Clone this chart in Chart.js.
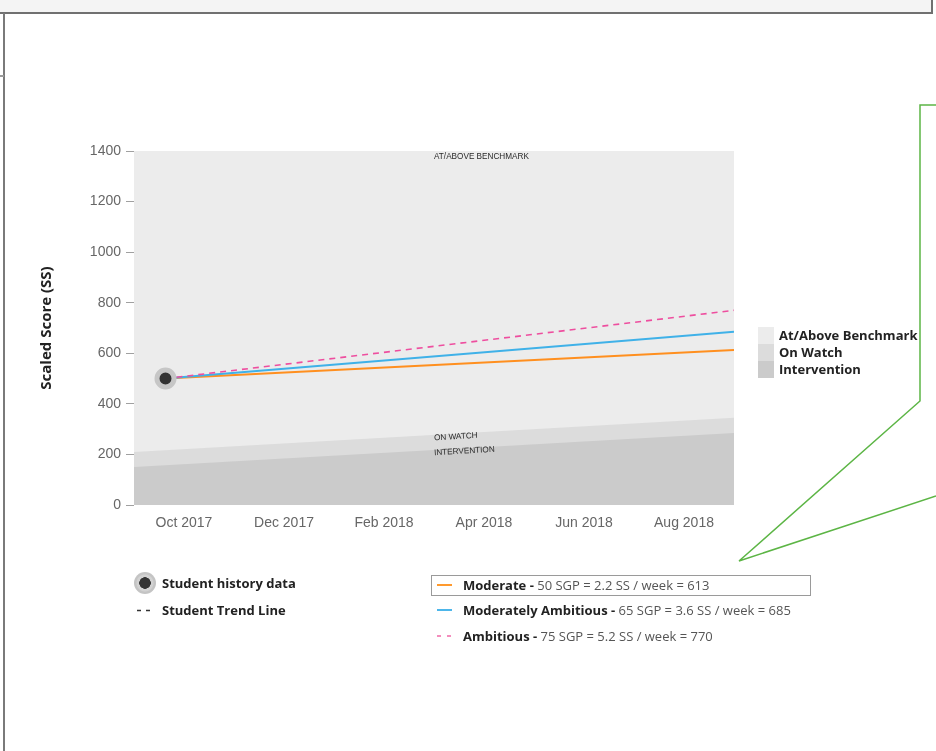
<!DOCTYPE html>
<html><head><meta charset="utf-8">
<script src="https://cdn.jsdelivr.net/npm/chart.js@4.4.0/dist/chart.umd.min.js"></script>
<style>
html,body{margin:0;padding:0;}
body{width:936px;height:751px;position:relative;overflow:hidden;background:#fff;font-family:'Open Sans',sans-serif;}
#top{position:absolute;left:0;top:0;width:931px;height:12px;background:#f4f4f4;border-bottom:2px solid #707070;border-right:2px solid #707070;}
#lb{position:absolute;left:3px;top:13px;width:2px;height:738px;background:#7a7a7a;}
#tk{position:absolute;left:0;top:75px;width:4px;height:2px;background:#9a9a9a;}
#wrap{position:absolute;left:0;top:0;width:936px;height:751px;}
svg{position:absolute;left:0;top:0;}
.t{position:absolute;white-space:nowrap;font-size:13px;line-height:16px;color:#222;}
.b{font-weight:700;}
.n{font-weight:400;color:#555;}
.sq{position:absolute;left:758px;width:16px;height:17px;}
#box{position:absolute;left:431px;top:575px;width:378px;height:19px;border:1px solid #9a9a9a;}
#dot{position:absolute;left:134px;top:572px;width:22px;height:22px;border-radius:50%;background:radial-gradient(circle,#333 0 5.5px,#d2d2d2 6px 8px,#c4c4c4 9px 11px);}
</style></head>
<body>
<div id="top"></div><div id="lb"></div><div id="tk"></div>
<div id="wrap"><canvas id="c" width="936" height="751"></canvas></div>

<div class="sq" style="top:327px;background:#ececec"></div>
<div class="sq" style="top:344px;background:#dcdcdc"></div>
<div class="sq" style="top:361px;background:#cbcbcb"></div>
<div class="t b" style="left:779px;top:327px">At/Above Benchmark</div>
<div class="t b" style="left:779px;top:344px">On Watch</div>
<div class="t b" style="left:779px;top:361px">Intervention</div>

<div id="dot"></div>
<div class="t b" style="left:162px;top:575px">Student history data</div>
<div class="t b" style="left:162px;top:602px">Student Trend Line</div>

<div id="box"></div>
<div class="t" style="left:463px;top:577px"><span class="b">Moderate - </span><span class="n">50 SGP = 2.2 SS / week = 613</span></div>
<div class="t" style="left:463px;top:602px"><span class="b">Moderately Ambitious - </span><span class="n">65 SGP = 3.6 SS / week = 685</span></div>
<div class="t" style="left:463px;top:628px"><span class="b">Ambitious - </span><span class="n">75 SGP = 5.2 SS / week = 770</span></div>

<svg width="936" height="751">
  <line x1="137" y1="610.5" x2="150" y2="610.5" stroke="#333" stroke-width="1.3" stroke-dasharray="4,5"/>
  <line x1="437" y1="585" x2="452" y2="585" stroke="#ff9a2e" stroke-width="2"/>
  <line x1="437" y1="610" x2="452" y2="610" stroke="#4db6ea" stroke-width="2"/>
  <line x1="437" y1="636" x2="452" y2="636" stroke="#f06aa8" stroke-width="1.3" stroke-dasharray="4,6"/>
  <polyline points="936,105 920,105 920,401 739,561 936,496" fill="none" stroke="#5cb545" stroke-width="1.5"/>
</svg>

<script>
// ---- data ----
const bandMonths = [0, 12];                 // months since Sep 2017
const interventionTop = [150, 285];
const onWatchTop = [210, 345];
const atAboveTop = [1400, 1400];

const studentMonths = [0.63];
const studentScores = [500];

const projMonths = [0.63, 12];
const moderateScores = [500, 613];
const modAmbitiousScores = [500, 685];
const ambitiousScores = [500, 770];

const xTickMonths = [1, 3, 5, 7, 9, 11];
const xTickLabels = ['Oct 2017', 'Dec 2017', 'Feb 2018', 'Apr 2018', 'Jun 2018', 'Aug 2018'];

const bandLabels = ['AT/ABOVE BENCHMARK', 'ON WATCH', 'INTERVENTION'];
const bandLabelScores = [1378, 265, 206];
const bandLabelMonth = 6;

const pts = (xs, ys) => xs.map((x, i) => ({x, y: ys[i]}));

const bandLabelPlugin = {
  id: 'bandLabels',
  afterDatasetsDraw(chart) {
    const {ctx, scales: {x, y}} = chart;
    const slope = Math.atan2(y.getPixelForValue(onWatchTop[1]) - y.getPixelForValue(onWatchTop[0]),
                             x.getPixelForValue(bandMonths[1]) - x.getPixelForValue(bandMonths[0]));
    ctx.save();
    ctx.fillStyle = '#2a2a2a';
    ctx.font = '8.2px "Liberation Sans", sans-serif';
    ctx.textBaseline = 'middle';
    bandLabels.forEach((t, i) => {
      ctx.save();
      ctx.translate(x.getPixelForValue(bandLabelMonth), y.getPixelForValue(bandLabelScores[i]));
      if (i > 0) ctx.rotate(slope);
      ctx.fillText(t, 0, 0);
      ctx.restore();
    });
    ctx.restore();
  }
};

new Chart(document.getElementById('c'), {
  type: 'line',
  data: {
    datasets: [
      {data: pts(studentMonths, studentScores), showLine: false, pointRadius: 8.5, pointBorderWidth: 5,
       pointBackgroundColor: '#333', pointBorderColor: '#c6c6c6', fill: false},
      {data: pts(projMonths, ambitiousScores), borderColor: '#ee4e9f', borderWidth: 1.6, borderDash: [6, 5], pointRadius: 0, fill: false},
      {data: pts(projMonths, modAmbitiousScores), borderColor: '#3fb1e8', borderWidth: 2, pointRadius: 0, fill: false},
      {data: pts(projMonths, moderateScores), borderColor: '#ff8f1f', borderWidth: 2, pointRadius: 0, fill: false},
      {data: pts(bandMonths, interventionTop), borderWidth: 0, pointRadius: 0, fill: 'origin', backgroundColor: '#cbcbcb'},
      {data: pts(bandMonths, onWatchTop), borderWidth: 0, pointRadius: 0, fill: 'origin', backgroundColor: '#dcdcdc'},
      {data: pts(bandMonths, atAboveTop), borderWidth: 0, pointRadius: 0, fill: 'origin', backgroundColor: '#ececec'}
    ]
  },
  options: {
    responsive: false,
    devicePixelRatio: 1,
    animation: false,
    events: [],
    layout: {padding: {left: 36, top: 151, right: 202, bottom: 216}},
    plugins: {legend: {display: false}, tooltip: {enabled: false}},
    scales: {
      x: {
        type: 'linear', min: 0, max: 12,
        grid: {display: false, drawTicks: false},
        border: {display: false},
        afterBuildTicks: s => { s.ticks = xTickMonths.map(v => ({value: v})); },
        afterFit: s => { s.height = 30; },
        ticks: {
          padding: 10, color: '#666', maxRotation: 0, autoSkip: false,
          font: {family: '"Liberation Sans", Arial, sans-serif', size: 14},
          callback: v => xTickLabels[xTickMonths.indexOf(v)]
        }
      },
      y: {
        min: 0, max: 1400,
        grid: {drawOnChartArea: false, drawTicks: true, tickLength: 8, color: '#a0a0a0'},
        border: {display: false},
        afterFit: s => { s.width = 98; },
        ticks: {stepSize: 200, padding: 5, color: '#666',
                font: {family: '"Liberation Sans", Arial, sans-serif', size: 14},
                callback: v => String(v)},
        title: {display: true, text: 'Scaled Score (SS)', color: '#222', padding: {top: 2, bottom: 0},
                font: {family: '"Open Sans", sans-serif', size: 15, weight: 'bold'}}
      }
    }
  },
  plugins: [bandLabelPlugin]
});
</script>
</body></html>
